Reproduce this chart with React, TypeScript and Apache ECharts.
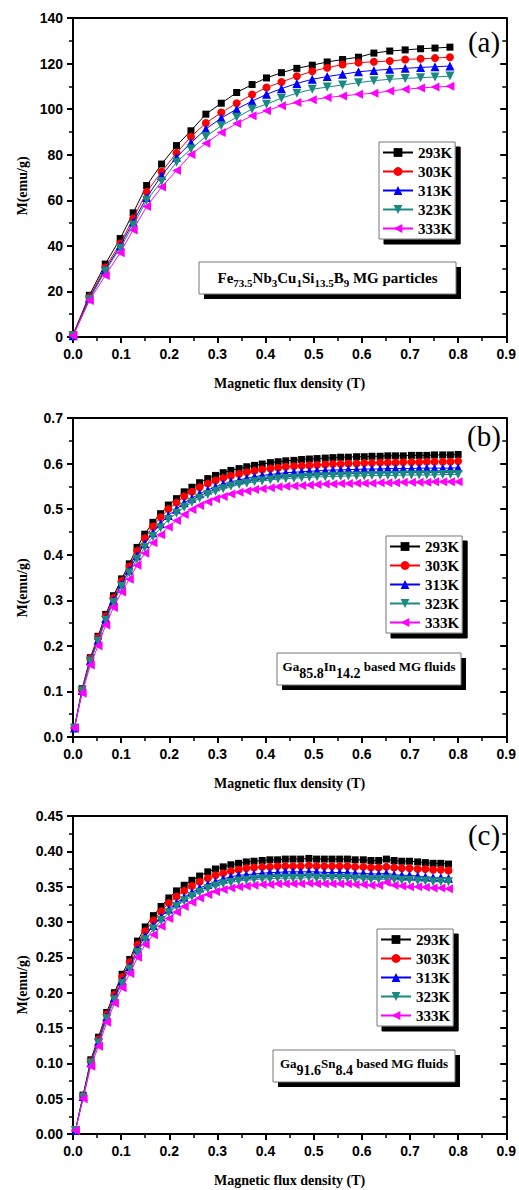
import React, { useEffect, useRef } from "react";
import * as echarts from "echarts";

const SERIES_NAMES = ["293K", "303K", "313K", "323K", "333K"];
const COLORS = ["#000000", "#ff0000", "#0000ff", "#1a8a80", "#ff00ff"];
const SYMBOLS = ["rect", "circle", "triangle", "triangle", "triangle"];
const SYMBOL_ROTATE = [0, 0, 0, 180, 90];
const SYMBOL_SIZE = [7, 8, 9, 9, 9];

// Panel (a): Fe73.5Nb3Cu1Si13.5B9 MG particles
const X_A = [0, 0.034, 0.067, 0.098, 0.125, 0.153, 0.184, 0.215, 0.245, 0.276, 0.308, 0.340, 0.372, 0.402, 0.433, 0.465, 0.497, 0.528, 0.560, 0.593, 0.625, 0.658, 0.690, 0.722, 0.752, 0.783];
const A_293 = [1, 18.3, 32, 43.2, 54.5, 66.5, 75.9, 84, 90.5, 97.8, 102.6, 107.3, 110.8, 113.7, 116, 117.9, 119.3, 120.7, 121.8, 122.8, 124.6, 125.5, 126, 126.5, 126.8, 127.2];
const A_303 = [1, 17.5, 30.5, 41, 52, 63.6, 72.5, 80.8, 87.9, 93.9, 98.5, 102.6, 106.4, 109.5, 111.9, 114.4, 116.6, 118.2, 119.6, 120.4, 120.8, 121.1, 121.8, 122.1, 122.4, 122.8];
const A_313 = [0.5, 17, 29.5, 40, 50.5, 61.2, 70.9, 78.9, 85.2, 91.3, 96.1, 100, 103.5, 106.5, 109, 111.3, 113.1, 114.3, 115.3, 116.4, 117, 117.5, 117.9, 118.3, 118.6, 118.9];
const A_323 = [0.5, 16.5, 29, 39, 49, 60, 68.2, 76.7, 82.5, 88, 92.7, 96.4, 100, 102.2, 104.8, 107, 108.7, 109.7, 110.6, 111.6, 112.5, 113.1, 113.5, 113.8, 114.1, 114.5];
const A_333 = [0.5, 16, 27, 37, 47, 57.3, 65.8, 73.1, 80.1, 85, 89.8, 93.7, 97.1, 99.3, 101.5, 102.9, 104.1, 105.1, 105.8, 106.5, 107, 108, 108.7, 109.3, 109.7, 110];

// Panel (b): Ga85.8In14.2 based MG fluids
const X_B = [0.003, 0.019, 0.036, 0.052, 0.068, 0.084, 0.101, 0.117, 0.133, 0.149, 0.166, 0.182, 0.198, 0.215, 0.231, 0.247, 0.263, 0.280, 0.296, 0.312, 0.328, 0.345, 0.361, 0.377, 0.393, 0.410, 0.426, 0.442, 0.459, 0.475, 0.491, 0.507, 0.524, 0.540, 0.556, 0.572, 0.589, 0.605, 0.621, 0.638, 0.654, 0.670, 0.686, 0.703, 0.719, 0.735, 0.751, 0.768, 0.784, 0.800];
const B_293 = [0.020, 0.106, 0.174, 0.221, 0.269, 0.310, 0.347, 0.380, 0.416, 0.445, 0.471, 0.490, 0.509, 0.523, 0.538, 0.548, 0.558, 0.567, 0.574, 0.580, 0.585, 0.589, 0.593, 0.596, 0.599, 0.602, 0.604, 0.606, 0.607, 0.609, 0.610, 0.611, 0.612, 0.613, 0.614, 0.614, 0.615, 0.615, 0.616, 0.616, 0.617, 0.617, 0.617, 0.618, 0.618, 0.618, 0.619, 0.619, 0.619, 0.620];
const B_303 = [0.020, 0.104, 0.172, 0.218, 0.265, 0.305, 0.342, 0.374, 0.408, 0.436, 0.462, 0.482, 0.500, 0.514, 0.528, 0.538, 0.548, 0.556, 0.563, 0.568, 0.573, 0.577, 0.581, 0.584, 0.587, 0.589, 0.591, 0.593, 0.594, 0.595, 0.596, 0.597, 0.598, 0.599, 0.599, 0.600, 0.600, 0.601, 0.601, 0.602, 0.602, 0.602, 0.603, 0.603, 0.603, 0.604, 0.604, 0.604, 0.604, 0.605];
const B_313 = [0.020, 0.102, 0.168, 0.213, 0.260, 0.300, 0.336, 0.366, 0.398, 0.424, 0.448, 0.468, 0.486, 0.500, 0.514, 0.524, 0.534, 0.542, 0.549, 0.555, 0.560, 0.564, 0.568, 0.571, 0.574, 0.576, 0.578, 0.580, 0.581, 0.582, 0.583, 0.584, 0.585, 0.586, 0.586, 0.587, 0.587, 0.588, 0.588, 0.588, 0.589, 0.589, 0.589, 0.589, 0.590, 0.590, 0.590, 0.590, 0.590, 0.591];
const B_323 = [0.020, 0.101, 0.166, 0.210, 0.256, 0.295, 0.330, 0.360, 0.390, 0.416, 0.440, 0.459, 0.477, 0.491, 0.504, 0.515, 0.524, 0.532, 0.539, 0.545, 0.550, 0.554, 0.557, 0.560, 0.562, 0.564, 0.566, 0.567, 0.568, 0.569, 0.570, 0.571, 0.571, 0.572, 0.572, 0.573, 0.573, 0.573, 0.574, 0.574, 0.574, 0.574, 0.575, 0.575, 0.575, 0.575, 0.575, 0.576, 0.576, 0.576];
const B_333 = [0.020, 0.096, 0.158, 0.200, 0.246, 0.284, 0.318, 0.346, 0.377, 0.403, 0.426, 0.444, 0.461, 0.475, 0.488, 0.499, 0.508, 0.516, 0.523, 0.528, 0.533, 0.537, 0.540, 0.543, 0.545, 0.547, 0.549, 0.550, 0.551, 0.552, 0.553, 0.554, 0.555, 0.555, 0.556, 0.556, 0.557, 0.557, 0.557, 0.558, 0.558, 0.558, 0.559, 0.559, 0.559, 0.559, 0.560, 0.560, 0.560, 0.560];

// Panel (c): Ga91.6Sn8.4 based MG fluids
const X_C = [0.005, 0.021, 0.037, 0.053, 0.070, 0.086, 0.102, 0.118, 0.134, 0.150, 0.167, 0.183, 0.199, 0.215, 0.231, 0.247, 0.263, 0.280, 0.296, 0.312, 0.328, 0.344, 0.360, 0.376, 0.393, 0.409, 0.425, 0.441, 0.457, 0.473, 0.490, 0.506, 0.522, 0.538, 0.554, 0.570, 0.586, 0.603, 0.619, 0.635, 0.651, 0.667, 0.683, 0.699, 0.716, 0.732, 0.748, 0.764, 0.780];
const C_293 = [0.005, 0.055, 0.105, 0.137, 0.172, 0.200, 0.226, 0.247, 0.273, 0.293, 0.309, 0.322, 0.334, 0.344, 0.352, 0.359, 0.365, 0.371, 0.375, 0.378, 0.381, 0.383, 0.385, 0.386, 0.387, 0.388, 0.388, 0.389, 0.389, 0.389, 0.390, 0.389, 0.389, 0.389, 0.389, 0.389, 0.388, 0.388, 0.387, 0.387, 0.389, 0.387, 0.386, 0.386, 0.385, 0.384, 0.383, 0.383, 0.382];
const C_303 = [0.005, 0.054, 0.103, 0.134, 0.169, 0.197, 0.222, 0.243, 0.268, 0.287, 0.302, 0.315, 0.327, 0.336, 0.344, 0.351, 0.357, 0.362, 0.366, 0.369, 0.372, 0.374, 0.376, 0.377, 0.378, 0.378, 0.379, 0.379, 0.379, 0.379, 0.380, 0.379, 0.379, 0.379, 0.379, 0.379, 0.378, 0.378, 0.377, 0.377, 0.378, 0.377, 0.376, 0.376, 0.375, 0.375, 0.374, 0.374, 0.373];
const C_313 = [0.005, 0.053, 0.101, 0.131, 0.166, 0.193, 0.217, 0.237, 0.262, 0.280, 0.295, 0.307, 0.318, 0.327, 0.335, 0.342, 0.348, 0.353, 0.357, 0.361, 0.364, 0.366, 0.367, 0.368, 0.369, 0.370, 0.370, 0.371, 0.371, 0.371, 0.371, 0.371, 0.370, 0.370, 0.370, 0.370, 0.369, 0.369, 0.368, 0.368, 0.369, 0.367, 0.366, 0.366, 0.365, 0.364, 0.363, 0.363, 0.362];
const C_323 = [0.005, 0.052, 0.100, 0.129, 0.163, 0.190, 0.213, 0.233, 0.257, 0.275, 0.290, 0.302, 0.313, 0.322, 0.330, 0.336, 0.342, 0.347, 0.351, 0.354, 0.356, 0.358, 0.359, 0.360, 0.361, 0.361, 0.362, 0.362, 0.362, 0.362, 0.363, 0.362, 0.362, 0.362, 0.362, 0.362, 0.361, 0.361, 0.360, 0.360, 0.361, 0.360, 0.359, 0.359, 0.358, 0.358, 0.357, 0.357, 0.357];
const C_333 = [0.005, 0.050, 0.096, 0.124, 0.158, 0.185, 0.207, 0.227, 0.250, 0.268, 0.282, 0.294, 0.305, 0.314, 0.322, 0.328, 0.334, 0.339, 0.343, 0.346, 0.348, 0.350, 0.351, 0.352, 0.353, 0.353, 0.354, 0.354, 0.354, 0.354, 0.355, 0.354, 0.354, 0.354, 0.354, 0.354, 0.353, 0.353, 0.352, 0.352, 0.356, 0.352, 0.351, 0.350, 0.350, 0.349, 0.348, 0.348, 0.347];

const X_AXIS_NAME = "Magnetic flux density (T)";
const Y_AXIS_NAME = "M(emu/g)";
const PANEL_LABELS = ["(a)", "(b)", "(c)"];
const ANNOTATIONS = [
  "{n|Fe}{s|73.5}{n|Nb}{s|3}{n|Cu}{s|1}{n|Si}{s|13.5}{n|B}{s|9}{n| MG particles}",
  "{n|Ga}{s|85.8}{n|In}{s|14.2}{n| based MG fluids}",
  "{n|Ga}{s|91.6}{n|Sn}{s|8.4}{n| based MG fluids}",
];

const SERIF = '"Liberation Serif", "Times New Roman", serif';
const SANS = '"Liberation Sans", Arial, sans-serif';

const PANELS = [
  { top: 18, height: 319, ymax: 140, yint: 20, dec: 0, x: X_A, ys: [A_293, A_303, A_313, A_323, A_333],
    labelY: 42, yNameY: 186, legend: { left: 379, top: 142 },
    box: { x: 199, y: 262, w: 257, h: 32 }, big: true },
  { top: 418, height: 319, ymax: 0.7, yint: 0.1, dec: 1, x: X_B, ys: [B_293, B_303, B_313, B_323, B_333],
    labelY: 436, yNameY: 588, legend: { left: 386, top: 536 },
    box: { x: 277, y: 653, w: 184, h: 32 }, big: false },
  { top: 816, height: 318, ymax: 0.45, yint: 0.05, dec: 2, x: X_C, ys: [C_293, C_303, C_313, C_323, C_333],
    labelY: 835, yNameY: 985, legend: { left: 377, top: 929 },
    box: { x: 273, y: 1050, w: 182, h: 32 }, big: false },
];

function buildOption() {
  const grid: any[] = [];
  const xAxis: any[] = [];
  const yAxis: any[] = [];
  const series: any[] = [];
  const legend: any[] = [];
  const graphic: any[] = [];
  const axisLineStyle = { color: "#000", width: 2 };

  PANELS.forEach((p, i) => {
    grid.push({ left: 73, right: 12, top: p.top, height: p.height, containLabel: false });
    xAxis.push({
      gridIndex: i, type: "value", min: 0, max: 0.9, interval: 0.1,
      axisLine: { onZero: false, lineStyle: axisLineStyle },
      axisTick: { inside: false, length: 6, lineStyle: { color: "#000", width: 2 } },
      minorTick: { show: true, splitNumber: 2, length: 4, lineStyle: { color: "#000", width: 1.5 } },
      splitLine: { show: false },
      axisLabel: { margin: 10, color: "#000", fontFamily: SANS, fontWeight: "bold", fontSize: 14,
        formatter: (v: number) => v.toFixed(1) },
      name: X_AXIS_NAME, nameLocation: "middle", nameGap: 39,
      nameTextStyle: { color: "#000", fontFamily: SERIF, fontWeight: "bold", fontSize: 14 },
    });
    yAxis.push({
      gridIndex: i, type: "value", min: 0, max: p.ymax, interval: p.yint,
      axisLine: { onZero: false, lineStyle: axisLineStyle },
      axisTick: { inside: false, length: 6, lineStyle: { color: "#000", width: 2 } },
      minorTick: { show: true, splitNumber: 2, length: 4, lineStyle: { color: "#000", width: 1.5 } },
      splitLine: { show: false },
      axisLabel: { margin: 10, color: "#000", fontFamily: SANS, fontWeight: "bold", fontSize: 14,
        formatter: (v: number) => v.toFixed(p.dec) },
    });
  });
  PANELS.forEach((p, i) => {
    xAxis.push({
      gridIndex: i, type: "value", position: "top", min: 0, max: 0.9, interval: 0.1,
      axisLine: { onZero: false, lineStyle: axisLineStyle },
      axisTick: { show: false }, axisLabel: { show: false }, splitLine: { show: false },
    });
    yAxis.push({
      gridIndex: i, type: "value", position: "right", min: 0, max: p.ymax, interval: p.yint,
      axisLine: { onZero: false, lineStyle: axisLineStyle },
      axisTick: { inside: true, length: 6, lineStyle: { color: "#000", width: 2 } },
      minorTick: { show: true, splitNumber: 2, length: 4, lineStyle: { color: "#000", width: 1.5 } },
      axisLabel: { show: false }, splitLine: { show: false },
    });
  });

  PANELS.forEach((p, i) => {
    p.ys.forEach((vals, k) => {
      series.push({
        type: "line", name: SERIES_NAMES[k], xAxisIndex: i, yAxisIndex: i,
        data: vals.map((v, j) => [p.x[j], v]),
        symbol: SYMBOLS[k], symbolRotate: SYMBOL_ROTATE[k], symbolSize: SYMBOL_SIZE[k],
        showSymbol: true,
        itemStyle: { color: COLORS[k] },
        lineStyle: { color: COLORS[k], width: 1 },
        z: 2 + k,
      });
    });

    legend.push({
      left: p.legend.left, top: p.legend.top, orient: "vertical", data: SERIES_NAMES,
      itemWidth: 30, itemHeight: 11, itemGap: 4, padding: [3, 3, 3, 3],
      backgroundColor: "#fff", borderColor: "#777", borderWidth: 1,
      shadowColor: "#000", shadowOffsetX: 5, shadowOffsetY: 5, shadowBlur: 0,
      selectedMode: false,
      textStyle: { color: "#000", fontFamily: SERIF, fontWeight: "bold", fontSize: 15, lineHeight: 15 },
    });

    graphic.push({
      type: "text", x: 484, y: p.labelY,
      style: { text: PANEL_LABELS[i], font: `29px ${SERIF}`, fill: "#000", align: "center", verticalAlign: "middle" },
    });
    graphic.push({
      type: "text", x: 22, y: p.yNameY, rotation: Math.PI / 2,
      style: { text: Y_AXIS_NAME, font: `bold 14px ${SERIF}`, fill: "#000", align: "center", verticalAlign: "middle" },
    });
    const b = p.box;
    graphic.push({
      type: "rect", shape: { x: b.x + 5, y: b.y + 5, width: b.w, height: b.h },
      style: { fill: "#000" }, z: 10,
    });
    graphic.push({
      type: "rect", shape: { x: b.x, y: b.y, width: b.w, height: b.h },
      style: { fill: "#fff", stroke: "#777", lineWidth: 1 }, z: 11,
    });
    const rich = p.big
      ? {
          n: { fontFamily: SERIF, fontWeight: "bold", fontSize: 15, height: 15, lineHeight: 18, verticalAlign: "top", fill: "#000" },
          s: { fontFamily: SERIF, fontWeight: "bold", fontSize: 11, height: 11, lineHeight: 18, verticalAlign: "bottom", fill: "#000" },
        }
      : {
          n: { fontFamily: SERIF, fontWeight: "bold", fontSize: 13, height: 13, lineHeight: 20, verticalAlign: "top", fill: "#000" },
          s: { fontFamily: SERIF, fontWeight: "bold", fontSize: 14, height: 14, lineHeight: 20, verticalAlign: "bottom", fill: "#000" },
        };
    graphic.push({
      type: "text", x: b.x + b.w / 2, y: b.y + b.h / 2 + 1, z: 12,
      style: { text: ANNOTATIONS[i], rich, align: "center", verticalAlign: "middle",
        fontFamily: SERIF, fontWeight: "bold", fontSize: 15, fill: "#000" },
    });
  });

  return { animation: false, backgroundColor: "#fff", grid, xAxis, yAxis, series, legend, graphic };
}

export default function App() {
  const ref = useRef<HTMLDivElement>(null);
  useEffect(() => {
    if (!ref.current) return;
    const chart = echarts.init(ref.current, undefined, { renderer: "svg" });
    chart.setOption(buildOption() as any);
    return () => chart.dispose();
  }, []);
  return (
    <div
      ref={ref}
      style={{ position: "absolute", left: 0, top: 0, width: 519, height: 1190, background: "#fff" }}
    />
  );
}
